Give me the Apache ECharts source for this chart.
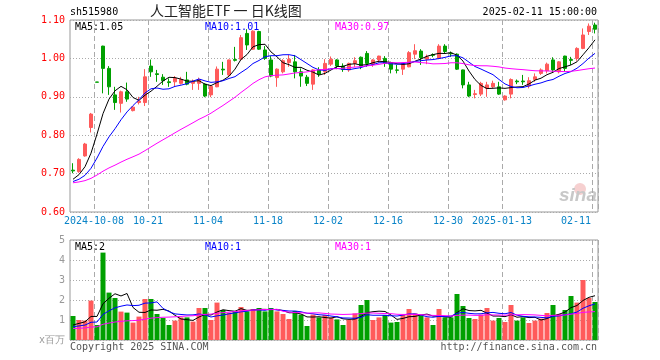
<!DOCTYPE html>
<html><head><meta charset="utf-8">
<script src="https://cdn.jsdelivr.net/npm/echarts@6/dist/echarts.min.js"></script>
<style>html,body{margin:0;padding:0;background:#fff}#c{width:660px;height:360px}</style>
</head><body><div id="c"></div>
<script>
const dates = ['2024-09-25','2024-09-26','2024-09-27','2024-09-30','2024-10-08','2024-10-09','2024-10-10','2024-10-11','2024-10-14','2024-10-15','2024-10-16','2024-10-17','2024-10-18','2024-10-21','2024-10-22','2024-10-23','2024-10-24','2024-10-25','2024-10-28','2024-10-29','2024-10-30','2024-10-31','2024-11-01','2024-11-04','2024-11-05','2024-11-06','2024-11-07','2024-11-08','2024-11-11','2024-11-12','2024-11-13','2024-11-14','2024-11-15','2024-11-18','2024-11-19','2024-11-20','2024-11-21','2024-11-22','2024-11-25','2024-11-26','2024-11-27','2024-11-28','2024-11-29','2024-12-02','2024-12-03','2024-12-04','2024-12-05','2024-12-06','2024-12-09','2024-12-10','2024-12-11','2024-12-12','2024-12-13','2024-12-16','2024-12-17','2024-12-18','2024-12-19','2024-12-20','2024-12-23','2024-12-24','2024-12-25','2024-12-26','2024-12-27','2024-12-30','2024-12-31','2025-01-02','2025-01-03','2025-01-06','2025-01-07','2025-01-08','2025-01-09','2025-01-10','2025-01-13','2025-01-14','2025-01-15','2025-01-16','2025-01-17','2025-01-20','2025-01-21','2025-01-22','2025-01-23','2025-01-24','2025-01-27','2025-02-05','2025-02-06','2025-02-07','2025-02-10','2025-02-11'];
const opens  = [0.709,0.705,0.746,0.820,0.9385,1.032,0.974,0.905,0.883,0.913,0.864,0.885,0.885,0.980,0.960,0.951,0.939,0.939,0.935,0.944,0.935,0.935,0.933,0.905,0.926,0.972,0.957,0.997,0.998,1.065,1.024,1.070,1.022,0.996,0.950,0.965,0.989,0.991,0.965,0.951,0.933,0.970,0.965,0.985,0.996,0.980,0.970,0.987,1.003,1.013,0.985,0.996,1.000,0.989,0.970,0.972,0.978,1.011,1.019,0.998,1.010,1.000,1.032,1.014,1.011,0.970,0.931,0.906,0.907,0.922,0.926,0.926,0.892,0.907,0.941,0.941,0.928,0.945,0.961,0.968,0.996,0.965,1.006,0.997,1.000,1.026,1.070,1.087];
const closes = [0.707,0.737,0.777,0.855,0.938,0.974,0.926,0.885,0.913,0.894,0.873,0.889,0.952,0.965,0.958,0.942,0.937,0.948,0.945,0.933,0.939,0.945,0.902,0.927,0.972,0.970,0.996,0.995,1.054,1.035,1.071,1.024,1.000,0.954,0.972,0.994,0.998,0.965,0.954,0.935,0.970,0.959,0.987,0.998,0.980,0.971,0.987,0.994,0.980,0.987,0.996,1.006,0.987,0.972,0.969,0.987,1.015,1.020,1.002,1.004,1.008,1.032,1.018,1.012,0.972,0.931,0.902,0.908,0.935,0.931,0.935,0.907,0.902,0.945,0.939,0.939,0.942,0.952,0.970,0.985,0.970,0.991,0.974,0.995,1.026,1.061,1.084,1.076];
const lows   = [0.701,0.702,0.744,0.807,0.938,0.909,0.905,0.866,0.859,0.887,0.862,0.880,0.876,0.952,0.939,0.931,0.926,0.926,0.932,0.930,0.918,0.918,0.899,0.899,0.925,0.957,0.954,0.992,0.995,1.022,1.022,1.022,0.996,0.951,0.926,0.961,0.978,0.948,0.926,0.928,0.918,0.952,0.957,0.980,0.972,0.965,0.965,0.978,0.972,0.978,0.978,0.989,0.978,0.961,0.961,0.957,0.977,0.998,0.983,0.985,1.003,0.998,1.013,1.004,0.970,0.922,0.899,0.896,0.902,0.900,0.922,0.905,0.890,0.896,0.933,0.931,0.922,0.939,0.957,0.961,0.963,0.961,0.965,0.983,0.994,1.024,1.061,1.065];
const highs  = [0.727,0.740,0.780,0.858,0.9385,1.033,0.980,0.926,0.916,0.937,0.876,0.900,0.972,0.997,0.970,0.959,0.948,0.954,0.952,0.965,0.945,0.950,0.935,0.928,0.979,0.991,0.997,1.030,1.061,1.076,1.073,1.072,1.032,1.006,0.974,0.998,1.009,1.009,0.974,0.957,0.972,0.977,0.998,1.005,0.998,0.987,0.989,1.003,1.005,1.019,0.998,1.007,1.006,0.991,0.983,0.988,1.019,1.037,1.024,1.010,1.013,1.037,1.037,1.018,1.013,0.971,0.939,0.918,0.939,0.939,0.942,0.939,0.904,0.948,0.945,0.957,0.951,0.961,0.974,0.989,1.003,0.993,1.007,1.004,1.029,1.078,1.091,1.093];
const volumes = [1.2,1.0,0.97,1.97,0.75,4.37,2.37,2.1,1.42,1.37,0.87,1.17,2.05,2.05,1.3,1.1,0.75,0.97,1.13,1.13,0.92,1.6,1.6,1.0,1.87,1.5,1.37,1.45,1.65,1.43,1.55,1.6,1.43,1.6,1.43,1.3,1.05,1.45,1.27,0.7,1.27,1.13,1.25,1.13,1.03,0.75,1.0,1.33,1.75,2.0,1.0,1.13,1.25,0.87,0.9,1.25,1.55,1.33,1.22,1.13,0.75,1.55,1.13,1.13,2.3,1.7,1.1,1.05,1.27,1.6,0.97,1.1,0.9,1.75,0.97,1.13,0.85,0.97,1.07,1.35,1.75,1.3,1.5,2.2,1.87,3.0,2.1,1.9];
// estimated closes / volumes of the 29 sessions before the window (feed the moving averages)
const priorCloses = [0.672,0.675,0.678,0.676,0.674,0.671,0.669,0.672,0.676,0.679,0.681,0.678,0.675,0.673,0.670,0.668,0.671,0.674,0.677,0.680,0.678,0.675,0.672,0.670,0.673,0.676,0.674,0.679,0.690];
const priorVolumes = [0.52,0.55,0.50,0.48,0.53,0.57,0.51,0.49,0.54,0.56,0.52,0.50,0.47,0.55,0.58,0.53,0.50,0.52,0.49,0.60,0.58,0.55,0.57,0.62,0.55,0.60,0.58,0.62,0.75];
const tickDates  = ['2024-10-08','2024-10-21','2024-11-04','2024-11-18','2024-12-02','2024-12-16','2024-12-30','2025-01-13','2025-02-11'];
const tickLabels = ['2024-10-08','10-21','11-04','11-18','12-02','12-16','12-30','2025-01-13','02-11'];
const priceLegend = ['MA5:1.05','MA10:1.01','MA30:0.97'];
const volLegend = ['MA5:2','MA10:1','MA30:1'];
const maPeriods = [5,10,30];

const UP = '#ff5a5a', DOWN = '#00a000';
const MA_COLORS = ['#000000','#0000ff','#ff00ff'];
const MONO = 'DejaVu Sans Mono';

function ma(n, vals, prior) {
  const all = prior.concat(vals), off = prior.length;
  return vals.map((_, i) => { let s = 0; for (let k = 0; k < n; k++) s += all[off + i - k]; return +(s / n).toFixed(4); });
}
const candles = dates.map((d, i) => [opens[i], closes[i], lows[i], highs[i]]);
const volData = volumes.map((v, i) => ({ value: v, itemStyle: { color: closes[i] >= opens[i] ? UP : DOWN } }));
const isTick = (i) => tickDates.indexOf(dates[i]) >= 0;

function xAxisFor(g, showLabel) {
  return {
    type: 'category', gridIndex: g, data: dates, boundaryGap: true,
    axisLine: { show: false }, axisTick: { show: false },
    axisLabel: {
      show: showLabel, interval: (i) => isTick(i), margin: 4,
      color: '#0a84c8', fontFamily: MONO, fontSize: 10,
      formatter: (v) => { const k = tickDates.indexOf(v); if (k < 0) return ''; return (k === tickDates.length - 1 ? '{e|' : '{n|') + tickLabels[k] + '}'; },
      rich: {
        n: { padding: [0, 6, 0, 0], color: '#0a84c8', fontFamily: MONO, fontSize: 10 },
        e: { padding: [0, 38, 0, 0], color: '#0a84c8', fontFamily: MONO, fontSize: 10 }
      }
    },
    splitLine: { show: true, interval: (i) => isTick(i), lineStyle: { color: '#aaaaaa', type: [5, 3], width: 1 } }
  };
}

const series = [{
  type: 'candlestick', xAxisIndex: 0, yAxisIndex: 0, data: candles, barWidth: 4,
  itemStyle: { color: UP, color0: DOWN, borderColor: UP, borderColor0: DOWN, borderWidth: 1 }
}];
maPeriods.forEach((n, k) => series.push({
  type: 'line', xAxisIndex: 0, yAxisIndex: 0, data: ma(n, closes, priorCloses), showSymbol: false, symbol: 'none',
  lineStyle: { color: MA_COLORS[k], width: 1 }, z: 3
}));
series.push({ type: 'bar', xAxisIndex: 1, yAxisIndex: 1, data: volData, barWidth: 5 });
maPeriods.forEach((n, k) => series.push({
  type: 'line', xAxisIndex: 1, yAxisIndex: 1, data: ma(n, volumes, priorVolumes), showSymbol: false, symbol: 'none',
  lineStyle: { color: MA_COLORS[k], width: 1 }, z: 3
}));

const legendX = [75, 205, 335];
const graphic = [
  { type: 'text', left: 70, top: 7, style: { text: 'sh515980', fill: '#000', font: '10px "DejaVu Sans Mono"' } },
  { type: 'text', left: 150, top: 4, style: { text: '人工智能ETF 一 日K线图', fill: '#222', font: '14px "Noto Sans CJK SC"' } },
  { type: 'text', right: 63, top: 7, style: { text: '2025-02-11 15:00:00', fill: '#000', font: '10px "DejaVu Sans Mono"' } },
  { type: 'text', left: 70, top: 342, style: { text: 'Copyright 2025 SINA.COM', fill: '#555', font: '10px "DejaVu Sans Mono"' } },
  { type: 'text', right: 63, top: 342, style: { text: 'http://finance.sina.com.cn', fill: '#555', font: '10px "DejaVu Sans Mono"' } },
  { type: 'circle', shape: { cx: 580, cy: 189, r: 6 }, style: { fill: '#f6d0d0' }, z: 0 },
  { type: 'text', right: 63, top: 186, style: { text: 'sina', fill: '#c8c8c8', font: 'italic bold 19px "Liberation Sans"' } }
];
priceLegend.forEach((t, k) => graphic.push({ type: 'text', left: legendX[k], top: 22, style: { text: t, fill: MA_COLORS[k], font: '10px "DejaVu Sans Mono"' } }));
volLegend.forEach((t, k) => graphic.push({ type: 'text', left: legendX[k], top: 242, style: { text: t, fill: MA_COLORS[k], font: '10px "DejaVu Sans Mono"' } }));

const chart = echarts.init(document.getElementById('c'), null, { renderer: 'canvas' });
chart.setOption({
  animation: false,
  backgroundColor: '#ffffff',
  grid: [
    { left: 70, top: 20, width: 528, height: 192, show: true, borderColor: '#999', borderWidth: 1, backgroundColor: 'transparent', outerBoundsMode: 'none', containLabel: false },
    { left: 70, top: 240, width: 528, height: 100, show: true, borderColor: '#999', borderWidth: 1, backgroundColor: 'transparent', outerBoundsMode: 'none', containLabel: false }
  ],
  xAxis: [xAxisFor(0, true), xAxisFor(1, false)],
  yAxis: [
    { type: 'value', gridIndex: 0, min: 0.6, max: 1.1, interval: 0.1, scale: true,
      axisLine: { show: false }, axisTick: { show: false },
      axisLabel: { color: '#ff0000', fontFamily: MONO, fontSize: 10, margin: 5, formatter: (v) => v.toFixed(2) },
      splitLine: { show: true, lineStyle: { color: '#aaaaaa', type: [1, 2], width: 1 } } },
    { type: 'value', gridIndex: 1, min: 0, max: 5, interval: 1,
      axisLine: { show: false }, axisTick: { show: false },
      axisLabel: { color: '#999', fontFamily: MONO, fontSize: 10, margin: 5, formatter: (v) => v === 0 ? 'x百万' : String(v) },
      splitLine: { show: true, lineStyle: { color: '#aaaaaa', type: [1, 2], width: 1 } } }
  ],
  series: series,
  graphic: graphic
});
</script>
</body></html>
